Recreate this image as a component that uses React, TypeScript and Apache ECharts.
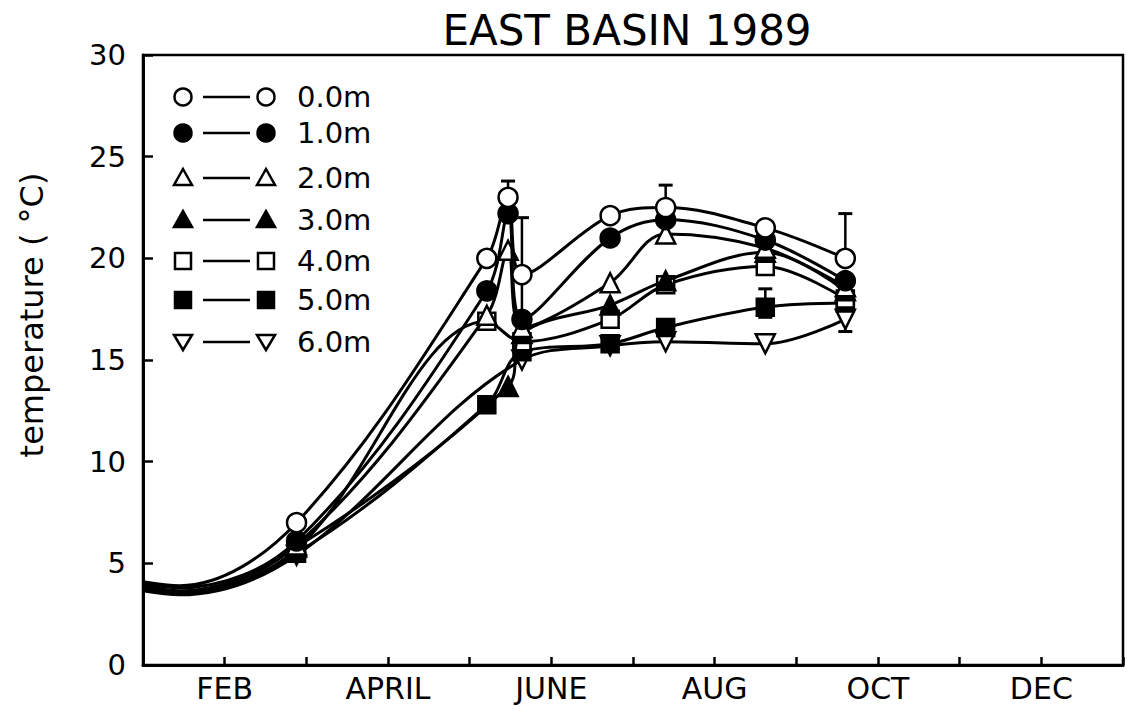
import React, { useEffect, useRef } from "react";
import * as echarts from "echarts";

// ---- data ----
const TITLE = "EAST BASIN 1989";
const Y_NAME = "temperature ( °C)";
const MONTH_LABELS = ["", "FEB", "", "APRIL", "", "JUNE", "", "AUG", "", "OCT", "", "DEC", ""];

// unmarked start of the fitted curves (January)
const janX = [0, 0.45];
// sampling dates (months since Jan 1)
const sampleX = [1.88, 4.21, 4.47, 4.64, 5.72, 6.4, 7.62, 8.6];

const depthNames = ["0.0m", "1.0m", "2.0m", "3.0m", "4.0m", "5.0m", "6.0m"];
const depthSymbols = ["circle", "circle", "triangle", "triangle", "rect", "rect", "triangle"];
const depthFilled = [false, true, false, true, false, true, false];
const depthRotate = [0, 0, 0, 0, 0, 0, 180];

const jan0m = [4.1, 3.9];
const jan1m = [4.0, 3.8];
const jan2m = [3.9, 3.65];
const jan3m = [3.85, 3.6];
const jan4m = [3.8, 3.55];
const jan5m = [3.7, 3.5];
const jan6m = [3.65, 3.45];

const temp0m = [7.0, 20.0, 23.0, 19.2, 22.1, 22.5, 21.5, 20.0];
const temp1m = [6.1, 18.4, 22.2, 17.0, 21.0, 21.9, 20.9, 18.9];
const temp2m = [5.9, 17.2, 20.4, 16.6, 18.8, 21.2, 20.5, 18.6];
const temp3m = [5.8, null, 13.7, 16.3, 17.7, 18.9, 20.3, 18.4];
const temp4m = [5.7, 16.9, null, 15.9, 17.0, 18.7, 19.6, 18.0];
const temp5m = [5.5, 12.8, null, 15.4, 15.8, 16.6, 17.6, 17.8];
const temp6m = [5.4, null, null, 15.0, 15.7, 15.9, 15.8, 17.0];

const janValues = [jan0m, jan1m, jan2m, jan3m, jan4m, jan5m, jan6m];
const tempValues = [temp0m, temp1m, temp2m, temp3m, temp4m, temp5m, temp6m];

// error bars: x, from value, to value (cap drawn at "to")
const errX = [4.47, 4.64, 6.4, 7.62, 7.62, 8.6, 8.6];
const errFrom = [23.0, 17.0, 22.5, 17.6, 17.6, 20.0, 17.0];
const errTo = [23.8, 22.0, 23.6, 18.5, 17.1, 22.2, 16.4];

const FONT = "DejaVu Sans";

function legendMarker(kind: string, filled: boolean, rot: number, cx: number, cy: number) {
  const style = { fill: filled ? "#000" : "#fff", stroke: "#000", lineWidth: 2.5 };
  if (kind === "circle") return { type: "circle", shape: { cx, cy, r: 8.5 }, style };
  if (kind === "rect") return { type: "rect", shape: { x: cx - 8, y: cy - 8, width: 16, height: 16 }, style };
  const pts =
    rot === 180
      ? [[cx, cy + 8], [cx + 9, cy - 7], [cx - 9, cy - 7]]
      : [[cx, cy - 9], [cx + 9, cy + 7], [cx - 9, cy + 7]];
  return { type: "polygon", shape: { points: pts }, style };
}

export default function App() {
  const ref = useRef<HTMLDivElement>(null);
  useEffect(() => {
    if (!ref.current) return;
    const chart = echarts.init(ref.current, undefined, { renderer: "svg" });

    const lineSeries = depthNames.map((name, i) => {
      const data: any[] = [];
      janX.forEach((x, j) => data.push({ value: [x, janValues[i][j]], symbol: "none" }));
      sampleX.forEach((x, j) => {
        const v = tempValues[i][j];
        data.push({ value: [x, v == null ? null : v] });
      });
      return {
        type: "line",
        name,
        data,
        smooth: 0.35,
        connectNulls: true,
        symbol: depthSymbols[i],
        symbolRotate: depthRotate[i],
        symbolSize: depthSymbols[i] === "rect" ? 17 : 19,
        showAllSymbol: true,
        lineStyle: { color: "#000", width: 3 },
        itemStyle: {
          color: depthFilled[i] ? "#000" : "#fff",
          borderColor: "#000",
          borderWidth: 2.5,
        },
        z: 3 + (6 - i) * 0.1,
        silent: true,
      };
    });

    const errData = errX.map((x, i) => [x, errFrom[i], errTo[i]]);
    const errSeries = {
      type: "custom",
      data: errData,
      encode: { x: 0, y: [1, 2] },
      z: 2,
      silent: true,
      renderItem: (_p: any, api: any) => {
        const x = api.value(0);
        const p0 = api.coord([x, api.value(1)]);
        const p1 = api.coord([x, api.value(2)]);
        return {
          type: "group",
          children: [
            { type: "line", shape: { x1: p0[0], y1: p0[1], x2: p1[0], y2: p1[1] }, style: { stroke: "#000", lineWidth: 2.5 } },
            { type: "line", shape: { x1: p1[0] - 7, y1: p1[1], x2: p1[0] + 7, y2: p1[1] }, style: { stroke: "#000", lineWidth: 3 } },
          ],
        };
      },
    };

    const legendRowsY = [97, 133, 178, 220, 261, 300, 342];
    const legendGraphics: any[] = [];
    depthNames.forEach((name, i) => {
      const y = legendRowsY[i];
      legendGraphics.push(legendMarker(depthSymbols[i], depthFilled[i], depthRotate[i], 183, y));
      legendGraphics.push({ type: "line", shape: { x1: 203, y1: y, x2: 250, y2: y }, style: { stroke: "#000", lineWidth: 2.5 } });
      legendGraphics.push(legendMarker(depthSymbols[i], depthFilled[i], depthRotate[i], 266, y));
      legendGraphics.push({
        type: "text",
        x: 297,
        y,
        style: { text: name, font: `29px '${FONT}'`, fill: "#000", textVerticalAlign: "middle", textAlign: "left" },
      });
    });

    chart.setOption({
      animation: false,
      backgroundColor: "#fff",
      grid: { left: 143, right: 4, top: 55, bottom: 46, show: true, borderColor: "#000", borderWidth: 2.5, backgroundColor: "transparent" },
      xAxis: {
        type: "value",
        min: 0,
        max: 12,
        interval: 1,
        splitLine: { show: false },
        axisLine: { lineStyle: { color: "#000", width: 3 } },
        axisTick: { inside: true, length: 8, lineStyle: { color: "#000", width: 2.5 } },
        axisLabel: {
          color: "#000",
          fontFamily: FONT,
          fontSize: 30,
          margin: 8,
          formatter: (v: number) => MONTH_LABELS[Math.round(v)] || "",
        },
      },
      yAxis: {
        type: "value",
        min: 0,
        max: 30,
        interval: 5,
        splitLine: { show: false },
        axisLine: { show: true, lineStyle: { color: "#000", width: 3 } },
        axisTick: { show: true, inside: true, length: 10, lineStyle: { color: "#000", width: 2.5 } },
        axisLabel: { color: "#000", fontFamily: FONT, fontSize: 29, margin: 17 },
      },
      graphic: [
        {
          type: "text",
          x: 627,
          y: 30,
          style: { text: TITLE, font: `42px '${FONT}'`, fill: "#000", textAlign: "center", textVerticalAlign: "middle" },
        },
        {
          type: "text",
          x: 32,
          y: 315,
          rotation: Math.PI / 2,
          style: { text: Y_NAME, font: `32px '${FONT}'`, fill: "#000", textAlign: "center", textVerticalAlign: "middle" },
        },
        ...legendGraphics,
      ],
      series: [...lineSeries, errSeries],
    });
    return () => chart.dispose();
  }, []);
  return <div ref={ref} style={{ position: "fixed", left: 0, top: 0, width: 1127, height: 711 }} />;
}
